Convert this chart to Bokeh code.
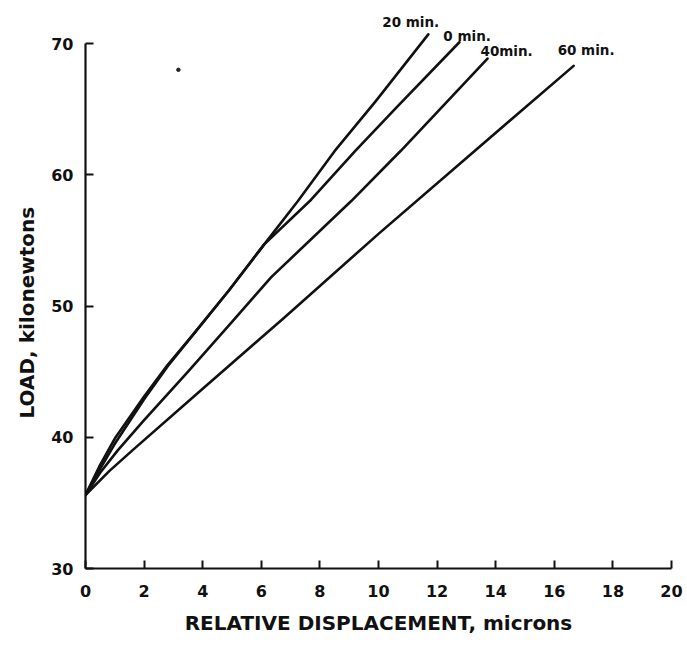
from bokeh.plotting import figure
from bokeh.models import FixedTicker, ColumnDataSource, Title
from bokeh.core.properties import value
from bokeh.embed import file_html
from bokeh.resources import INLINE

# Load-displacement curves for different hold times
disp_0min = [0, 0.5, 1.0, 1.5, 2.0, 2.8, 3.7, 4.9, 6.1, 7.7, 9.2, 10.6, 12.76]
load_0min = [35.6, 37.6, 39.5, 41.2, 42.9, 45.4, 47.9, 51.2, 54.7, 58.1, 61.8, 65.1, 70.1]

disp_20min = [0, 0.5, 1.0, 1.5, 2.0, 2.8, 3.7, 4.9, 6.1, 7.25, 8.5, 9.9, 11.7]
load_20min = [35.6, 37.9, 39.9, 41.5, 43.1, 45.5, 47.9, 51.2, 54.7, 58.0, 61.8, 65.6, 70.7]

disp_40min = [0, 0.5, 1.1, 2.0, 3.5, 5.0, 6.34, 9.07, 10.77, 13.72]
load_40min = [35.6, 37.3, 39.0, 41.3, 45.0, 48.8, 52.2, 58.0, 61.85, 68.86]

disp_60min = [0, 0.8, 1.6, 4.0, 6.8, 10.0, 13.3, 16.66]
load_60min = [35.6, 37.4, 39.0, 43.7, 49.15, 55.5, 61.85, 68.3]

curve_names = ["20 min.", "0 min.", "40min.", "60 min."]

x_ticks = [0, 2, 4, 6, 8, 10, 12, 14, 16, 18, 20]
y_ticks = [30, 40, 50, 60, 70]

FONT = "DejaVu Sans"
INK = "#111111"

p = figure(
    width=687, height=645,
    x_range=(0, 20), y_range=(30, 72.9),
    min_border_left=85, min_border_right=16,
    min_border_top=5, min_border_bottom=77,
    output_backend="svg", toolbar_location=None,
)
p.outline_line_color = None
p.xgrid.visible = False
p.ygrid.visible = False
p.background_fill_color = "white"
p.border_fill_color = "white"

curves = [
    (disp_20min, load_20min),
    (disp_0min, load_0min),
    (disp_40min, load_40min),
    (disp_60min, load_60min),
]
for xs, ys in curves:
    p.line(xs, ys, line_color=INK, line_width=2.6, line_join="round", line_cap="round")

# small speck in the upper left of the plot area
p.scatter([3.17], [68.0], size=3.5, color="#222222")

# curve labels placed near the end of each curve (screen offsets)
label_dx = [-46, -16, -7, -16]
label_dy = [-4, 2, 0, -8]
ends_x = [c[0][-1] for c in curves]
ends_y = [c[1][-1] for c in curves]
src = ColumnDataSource(dict(x=ends_x, y=ends_y, text=curve_names, dx=label_dx, dy=label_dy))
p.text(x="x", y="y", text="text", source=src, x_offset="dx", y_offset="dy",
       text_font=value(FONT), text_font_style="bold", text_font_size="13.5px",
       text_align="left", text_baseline="bottom", text_color=INK)

for ax in (p.xaxis[0], p.yaxis[0]):
    ax.axis_line_width = 2.2
    ax.axis_line_color = INK
    ax.major_tick_line_width = 2
    ax.major_tick_line_color = INK
    ax.major_tick_in = 8
    ax.major_tick_out = 0
    ax.minor_tick_line_color = None
    ax.major_label_text_font = FONT
    ax.major_label_text_font_style = "bold"
    ax.major_label_text_font_size = "16px"
    ax.major_label_text_color = INK
    ax.axis_label_text_font = FONT
    ax.axis_label_text_color = INK

p.xaxis.ticker = FixedTicker(ticks=x_ticks)
p.yaxis.ticker = FixedTicker(ticks=y_ticks)
p.xaxis.bounds = (0, 20)
p.yaxis.bounds = (30, 70)
p.xaxis.major_label_standoff = 16
p.yaxis.major_label_standoff = 12

p.xaxis.axis_label = "RELATIVE DISPLACEMENT, microns"
p.xaxis.axis_label_text_font_size = "20px"
p.xaxis.axis_label_text_font_style = "bold"
p.xaxis.axis_label_standoff = 11

# vertical title for the load axis, placed along the 30-70 span
ytitle = Title(text="LOAD, kilonewtons", align="left", offset=150,
               text_font=FONT, text_font_style="bold", text_font_size="20px",
               text_color=INK, standoff=19)
p.add_layout(ytitle, "left")

open("out.html", "w").write(file_html(p, INLINE))
